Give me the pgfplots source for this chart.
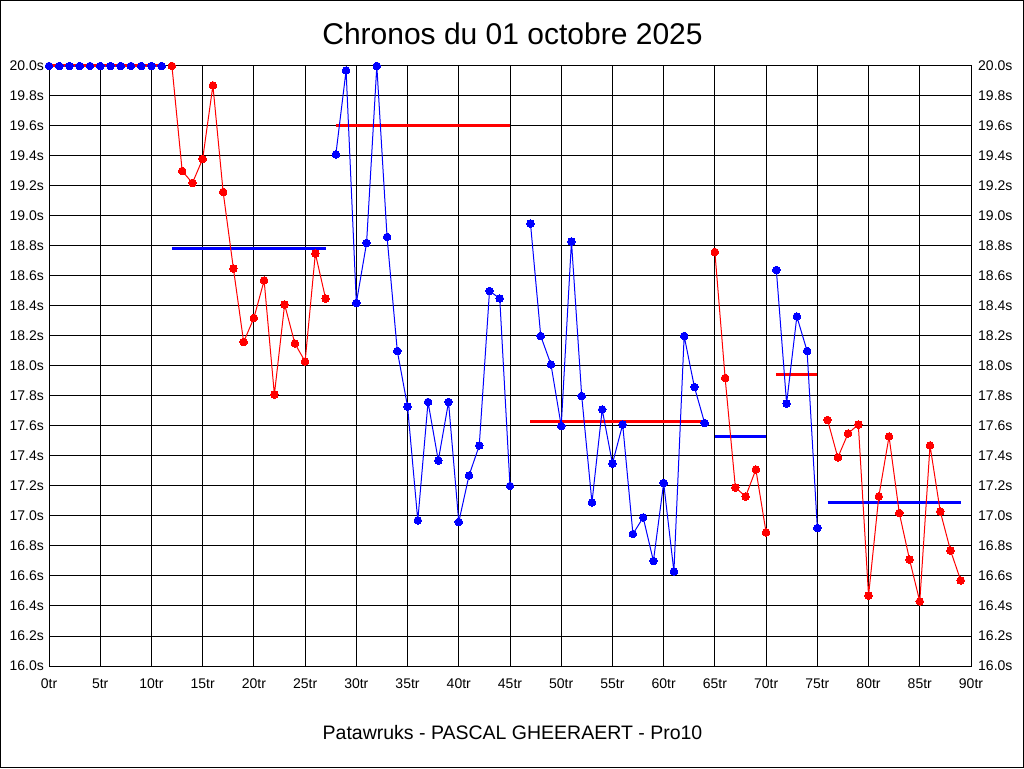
\documentclass[border=0pt]{standalone}
\usepackage{fontspec}
\setmainfont{Liberation Sans}
\usepackage{pgfplots}
\pgfplotsset{compat=1.18}
\definecolor{pblue}{RGB}{0,0,255}
\definecolor{pred}{RGB}{255,0,0}
\pgfplotsset{
  ser/.style={#1, line width=1pt, mark=*, mark size=3.8pt, mark options={solid, fill=#1, draw=#1, line width=0pt}},
  avg/.style={#1, line width=3pt, no marks},
}
\begin{document}
\begin{tikzpicture}[x=1pt,y=1pt]
\useasboundingbox (0,0) rectangle (1024,768);
\draw[line width=1pt, black] (0.5,0.5) rectangle (1023.5,767.5);
\node[inner sep=0pt, anchor=center, font=\fontsize{30}{36}\selectfont] at (512.5,734.4) {Chronos du 01 octobre 2025};
\node[inner sep=0pt, anchor=center, font=\fontsize{19.5}{24}\selectfont] at (512.5,35) {Patawruks - PASCAL GHEERAERT - Pro10};
\begin{axis}[
  at={(49pt,102pt)}, anchor=south west,
  scale only axis, width=922pt, height=600pt,
  xmin=0, xmax=90, ymin=16, ymax=20,
  xtick={0,5,10,15,20,25,30,35,40,45,50,55,60,65,70,75,80,85,90},
  ytick={16,16.2,16.4,16.6,16.8,17,17.2,17.4,17.6,17.8,18,18.2,18.4,18.6,18.8,19,19.2,19.4,19.6,19.8,20},
  xticklabel={\pgfmathprintnumber{\tick}tr},
  yticklabel={\pgfmathprintnumber[fixed,fixed zerofill,precision=1]{\tick}s},
  /pgf/number format/assume math mode=true,
  tick label style={font=\fontsize{14}{16}\selectfont, inner sep=0pt},
  xticklabel style={anchor=north, yshift=-12.5pt},
  yticklabel style={anchor=east, xshift=-5pt},
  major tick length=0pt,
  grid=major,
  major grid style={black, line width=1pt},
  axis line style={black, line width=1pt},
  clip=false,
]
% stint 1
\addplot[pblue, line width=1pt, no marks] coordinates {(0,20)(1,20)(2,20)(3,20)(4,20)(5,20)(6,20)(7,20)(8,20)(9,20)(10,20)(11,20)};
\addplot[avg=pred] coordinates {(0,20)(11,20)};
\addplot[pblue, only marks, mark=*, mark size=3.8pt, mark options={fill=pblue, draw=pblue, line width=0pt}] coordinates {(0,20)(1,20)(2,20)(3,20)(4,20)(5,20)(6,20)(7,20)(8,20)(9,20)(10,20)(11,20)};
% stint 2
\addplot[avg=pblue] coordinates {(12,18.78)(27,18.78)};
\addplot[ser=pred] coordinates {(12,20.00)(13,19.30)(14,19.22)(15,19.38)(16,19.87)(17,19.16)(18,18.65)(19,18.16)(20,18.32)(21,18.57)(22,17.81)(23,18.41)(24,18.15)(25,18.03)(26,18.75)(27,18.45)};
% stint 3
\addplot[avg=pred] coordinates {(28,19.60)(45,19.60)};
\addplot[ser=pblue] coordinates {(28,19.41)(29,19.97)(30,18.42)(31,18.82)(32,20.00)(33,18.86)(34,18.10)(35,17.73)(36,16.97)(37,17.76)(38,17.37)(39,17.76)(40,16.96)(41,17.27)(42,17.47)(43,18.50)(44,18.45)(45,17.20)};
% stint 4
\addplot[avg=pred] coordinates {(47,17.63)(64,17.63)};
\addplot[ser=pblue] coordinates {(47,18.95)(48,18.20)(49,18.01)(50,17.60)(51,18.83)(52,17.80)(53,17.09)(54,17.71)(55,17.35)(56,17.61)(57,16.88)(58,16.99)(59,16.70)(60,17.22)(61,16.63)(62,18.20)(63,17.86)(64,17.62)};
% stint 5
\addplot[avg=pblue] coordinates {(65,17.53)(70,17.53)};
\addplot[ser=pred] coordinates {(65,18.76)(66,17.92)(67,17.19)(68,17.13)(69,17.31)(70,16.89)};
% stint 6
\addplot[avg=pred] coordinates {(71,17.94)(75,17.94)};
\addplot[ser=pblue] coordinates {(71,18.64)(72,17.75)(73,18.33)(74,18.10)(75,16.92)};
% stint 7
\addplot[avg=pblue] coordinates {(76,17.09)(89,17.09)};
\addplot[ser=pred] coordinates {(76,17.64)(77,17.39)(78,17.55)(79,17.61)(80,16.47)(81,17.13)(82,17.53)(83,17.02)(84,16.71)(85,16.43)(86,17.47)(87,17.03)(88,16.77)(89,16.57)};
\end{axis}
\begin{axis}[
  at={(49pt,102pt)}, anchor=south west,
  scale only axis, width=922pt, height=600pt,
  xmin=0, xmax=90, ymin=16, ymax=20,
  xtick=\empty,
  ytick={16,16.2,16.4,16.6,16.8,17,17.2,17.4,17.6,17.8,18,18.2,18.4,18.6,18.8,19,19.2,19.4,19.6,19.8,20},
  yticklabel pos=right,
  yticklabel={\pgfmathprintnumber[fixed,fixed zerofill,precision=1]{\tick}s},
  /pgf/number format/assume math mode=true,
  tick label style={font=\fontsize{14}{16}\selectfont, inner sep=0pt},
  yticklabel style={anchor=west, xshift=7pt},
  major tick length=0pt,
  axis line style={draw=none},
]
\addplot[draw=none] coordinates {(0,16)};
\end{axis}
\end{tikzpicture}
\end{document}
